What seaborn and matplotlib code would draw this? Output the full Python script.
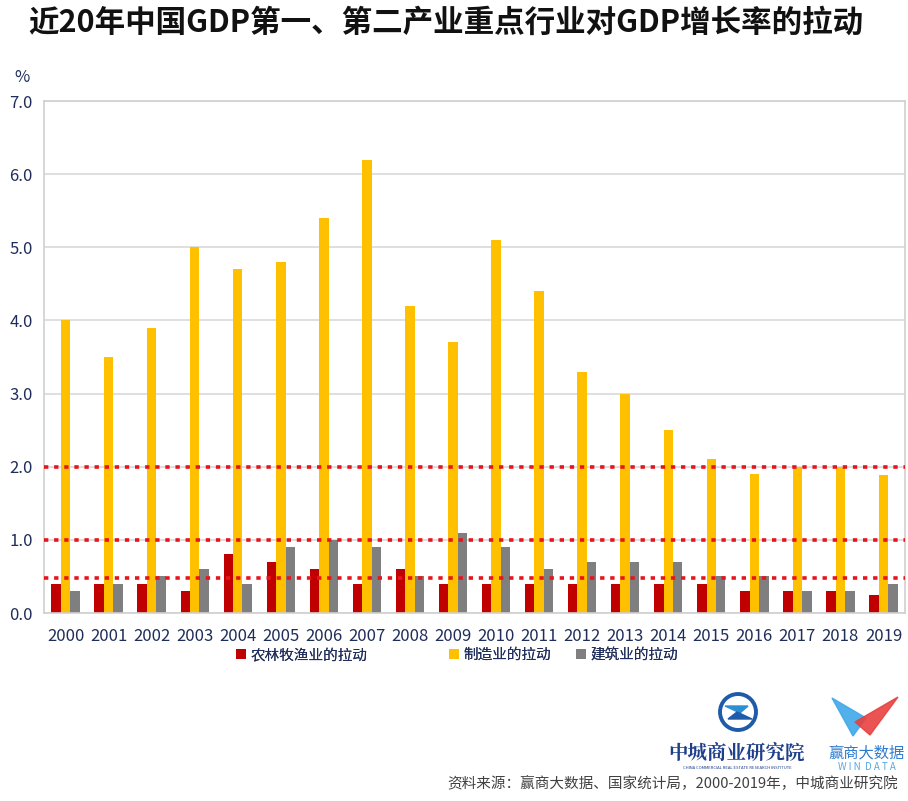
import matplotlib
matplotlib.use("Agg")
import matplotlib.pyplot as plt
import seaborn as sns
import pandas as pd
import numpy as np
from matplotlib.patches import Ellipse, Polygon

years = [str(y) for y in range(2000, 2020)]
agri = [0.4, 0.4, 0.4, 0.3, 0.8, 0.7, 0.6, 0.4, 0.6, 0.4, 0.4, 0.4, 0.4, 0.4, 0.4, 0.4, 0.3, 0.3, 0.3, 0.24]
manu = [4.0, 3.5, 3.9, 5.0, 4.7, 4.8, 5.4, 6.2, 4.2, 3.7, 5.1, 4.4, 3.3, 3.0, 2.5, 2.1, 1.9, 2.0, 2.0, 1.88]
cons = [0.3, 0.4, 0.5, 0.6, 0.4, 0.9, 1.0, 0.9, 0.5, 1.1, 0.9, 0.6, 0.7, 0.7, 0.7, 0.5, 0.5, 0.3, 0.3, 0.4]
series_names = ["农林牧渔业的拉动", "制造业的拉动", "建筑业的拉动"]
colors = ["#C00000", "#FFC000", "#7F7F7F"]
ref_lines = [2.0, 1.0, 0.48]
yticks = [0.0, 1.0, 2.0, 3.0, 4.0, 5.0, 6.0, 7.0]

sns.set_theme(style="white")
plt.rcParams['font.family'] = ['Noto Sans CJK SC', 'DejaVu Sans']

df = pd.DataFrame({
    "year": years * 3,
    "value": agri + manu + cons,
    "series": [series_names[0]] * 20 + [series_names[1]] * 20 + [series_names[2]] * 20,
})

fig = plt.figure(figsize=(9.08, 8.01), dpi=100)
ax = fig.add_axes([0.0485, 0.2347, 0.9482, 0.6392])

sns.barplot(data=df, x="year", y="value", hue="series", hue_order=series_names,
            palette=colors, width=0.66, saturation=1, ax=ax, legend=True, errorbar=None,
            linewidth=0, edgecolor="none")

ax.set_ylim(0, 7.0)
ax.set_xlim(-0.5, 19.5)
ax.set_yticks(yticks)
ax.set_yticklabels([f"{v:.1f}" for v in yticks])
ax.yaxis.grid(True, color="#D9D9D9", linewidth=1.2)
ax.set_axisbelow(True)
for r in ref_lines:
    ax.axhline(r, color="#E8141B", linestyle=(0, (1.2, 1.6)), linewidth=2.6, zorder=5)

for s in ax.spines.values():
    s.set_color("#D0D0D0")
    s.set_linewidth(1.2)

txt_color = "#1F2D5A"
ax.tick_params(axis="x", labelsize=12, colors=txt_color, length=0, pad=11)
ax.tick_params(axis="y", labelsize=12, colors=txt_color, length=0, pad=8)
ax.set_xticks(np.arange(-0.5, 20, 1), minor=True)
ax.tick_params(axis="x", which="minor", direction="in", length=4, color="#D0D0D0", width=1)
ax.set_xlabel("")
ax.set_ylabel("")

handles, labels = ax.get_legend_handles_labels()
ax.get_legend().remove()
leg_x = [236, 449, 576]
for h, l, x in zip(handles, labels, leg_x):
    lg = fig.legend([h], [l], loc="center left", bbox_to_anchor=(x / 908, 1 - 655 / 801),
                    frameon=False, fontsize=10.5, handlelength=0.7, handleheight=0.7,
                    handletextpad=0.3, labelcolor=txt_color, borderpad=0, borderaxespad=0)
    fig.add_artist(lg)

fig.text(0.0155, 0.893, "%", fontsize=12, color=txt_color, ha="left", va="bottom")

fig.text(0.491, 0.972, "近20年中国GDP第一、第二产业重点行业对GDP增长率的拉动",
         fontsize=22, fontweight="bold", color="#111111", ha="center", va="center")

fig.text(0.989, 0.012, "资料来源：赢商大数据、国家统计局，2000-2019年，中城商业研究院",
         fontsize=10.5, color="#404040", ha="right", va="bottom")

# logos (simplified)
fx = lambda px: px / 908
fy = lambda py: 1 - py / 801
fig.add_artist(Ellipse((fx(738), fy(712)), 36 / 908, 36 / 801, transform=fig.transFigure,
                       fill=False, edgecolor="#1E5BA8", linewidth=2.8))
fig.add_artist(Polygon([(fx(725), fy(706)), (fx(748), fy(706)), (fx(740), fy(713))],
                       closed=True, transform=fig.transFigure, color="#2C8FD6"))
fig.add_artist(Polygon([(fx(728), fy(719)), (fx(752), fy(719)), (fx(737), fy(712))],
                       closed=True, transform=fig.transFigure, color="#1E5BA8"))
fig.text(fx(737), fy(753), "中城商业研究院", fontsize=14, fontweight="bold",
         color="#1E3F8A", ha="center", va="center", family=["Noto Serif CJK SC", "Noto Sans CJK SC"])
fig.text(fx(737), fy(768), "CHINA COMMERCIAL REAL ESTATE RESEARCH INSTITUTE", fontsize=3,
         color="#1E3F8A", ha="center", va="center")
fig.add_artist(Polygon([(fx(832), fy(698)), (fx(866), fy(718)), (fx(853), fy(736))],
                       closed=True, transform=fig.transFigure, color="#3FA9E8", alpha=0.9))
fig.add_artist(Polygon([(fx(898), fy(697)), (fx(855), fy(722)), (fx(870), fy(735))],
                       closed=True, transform=fig.transFigure, color="#E8413F", alpha=0.9))
fig.text(fx(867), fy(753), "赢商大数据", fontsize=11, color="#2E7BCF", ha="center", va="center")
fig.text(fx(867), fy(767), "W I N  D A T A", fontsize=7, color="#5AA8E0", ha="center", va="center")

fig.savefig("out.png", dpi=100)
